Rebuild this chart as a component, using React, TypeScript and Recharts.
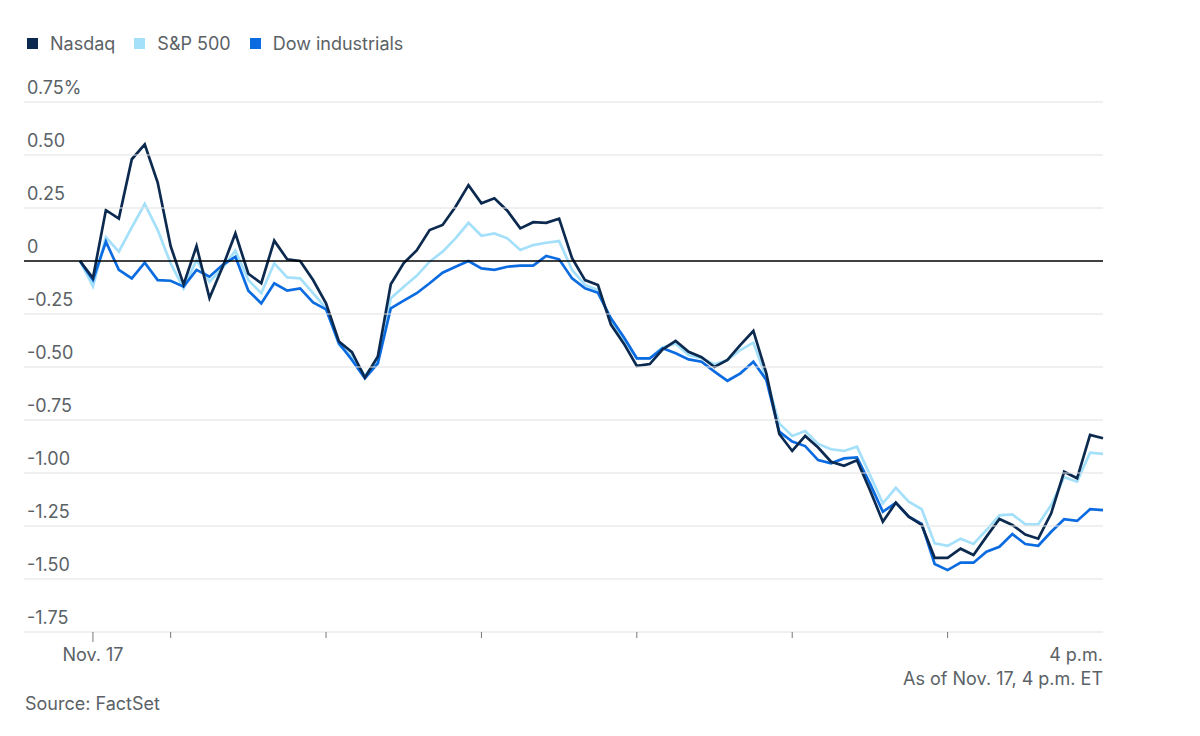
import { LineChart, Line, XAxis, YAxis } from 'recharts';

// Percent change from previous close, 5-minute marks from 9:25 to 4 p.m.
const NASDAQ = [
  0, -0.08, 0.24, 0.2, 0.48, 0.55, 0.37, 0.07, -0.11, 0.07,
  -0.175, -0.03, 0.13, -0.06, -0.105, 0.096, 0.008, 0.0, -0.09, -0.2,
  -0.38, -0.43, -0.55, -0.45, -0.11, -0.01, 0.05, 0.146, 0.17, 0.256,
  0.358, 0.272, 0.296, 0.237, 0.154, 0.183, 0.18, 0.2, 0.013, -0.09,
  -0.113, -0.3, -0.39, -0.495, -0.486, -0.417, -0.377, -0.428, -0.454, -0.5,
  -0.467, -0.396, -0.33, -0.53, -0.816, -0.896, -0.825, -0.88, -0.947, -0.966,
  -0.94, -1.08, -1.23, -1.14, -1.206, -1.245, -1.4, -1.4, -1.357, -1.387,
  -1.3, -1.217, -1.245, -1.29, -1.31, -1.19, -0.994, -1.025, -0.82, -0.836,
];
const SP500 = [
  0, -0.12, 0.112, 0.044, 0.159, 0.269, 0.146, -0.011, -0.129, 0.005,
  -0.098, -0.034, 0.049, -0.09, -0.152, -0.011, -0.077, -0.082, -0.152, -0.223,
  -0.396, -0.45, -0.54, -0.467, -0.176, -0.121, -0.07, -0.003, 0.044, 0.107,
  0.18, 0.119, 0.13, 0.107, 0.052, 0.075, 0.086, 0.094, -0.042, -0.113,
  -0.137, -0.286, -0.373, -0.459, -0.459, -0.407, -0.39, -0.443, -0.459, -0.487,
  -0.467, -0.42, -0.385, -0.553, -0.766, -0.825, -0.802, -0.863, -0.888, -0.896,
  -0.876, -1.009, -1.143, -1.07, -1.135, -1.171, -1.332, -1.344, -1.31, -1.335,
  -1.269, -1.2, -1.195, -1.242, -1.242, -1.151, -1.02, -1.041, -0.904, -0.91,
];
const DOW = [
  0, -0.09, 0.091, -0.042, -0.082, -0.008, -0.09, -0.093, -0.121, -0.042,
  -0.074, -0.019, 0.02, -0.14, -0.2, -0.105, -0.14, -0.129, -0.195, -0.228,
  -0.388, -0.467, -0.553, -0.483, -0.223, -0.187, -0.152, -0.105, -0.055, -0.027,
  0.0, -0.035, -0.042, -0.027, -0.022, -0.022, 0.024, 0.008, -0.082, -0.129,
  -0.15, -0.27, -0.36, -0.459, -0.459, -0.412, -0.435, -0.464, -0.475, -0.522,
  -0.565, -0.53, -0.475, -0.561, -0.805, -0.852, -0.873, -0.939, -0.954, -0.931,
  -0.926, -1.049, -1.183, -1.14, -1.206, -1.24, -1.429, -1.458, -1.423, -1.423,
  -1.371, -1.348, -1.288, -1.335, -1.343, -1.277, -1.218, -1.226, -1.171, -1.175,
];

const START_MIN = 9 * 60 + 25;
const STEP_MIN = 5;
const X_TICKS = [570, 600, 660, 720, 780, 840, 900, 960];
const X_LABELS: Record<number, string> = { 570: 'Nov. 17', 960: '4 p.m.' };
const Y_TICKS = [-1.75, -1.5, -1.25, -1, -0.75, -0.5, -0.25, 0, 0.25, 0.5, 0.75];

const SERIES = [
  { key: 'nasdaq', name: 'Nasdaq', color: '#0c2a4f' },
  { key: 'sp', name: 'S&P 500', color: '#a5e0fa' },
  { key: 'dow', name: 'Dow industrials', color: '#0b6be0' },
];

const data = NASDAQ.map((v, i) => ({
  t: START_MIN + i * STEP_MIN,
  nasdaq: v,
  sp: SP500[i],
  dow: DOW[i],
}));

const FONT = 'Inter, "Noto Sans", sans-serif';
const GRAY = '#5b6266';
const FS = 18;
const W = 1200;
const H = 736;
const MARGIN = { top: 102, right: 97, bottom: 64, left: 20 };
const GRID_X0 = 24;

function fmtY(v: number) {
  if (v === 0) return '0';
  const s = v.toFixed(2);
  return v === 0.75 ? s + '%' : s;
}

function YTick(props: any) {
  const { y, payload } = props;
  const v = payload.value as number;
  return (
    <g>
      <line
        x1={GRID_X0}
        x2={W - MARGIN.right}
        y1={y}
        y2={y}
        stroke={v === 0 ? '#000' : '#e2e2e2'}
        strokeWidth={v === 0 ? 1.3 : 1.2}
      />
      <text x={GRID_X0 + 3} y={y - 8} fill={GRAY} fontSize={FS} fontFamily={FONT}>
        {fmtY(v)}
      </text>
    </g>
  );
}

function XTick(props: any) {
  const { x, y, payload } = props;
  const v = payload.value as number;
  const label = X_LABELS[v];
  const last = v === X_TICKS[X_TICKS.length - 1];
  return (
    <g>
      {!last && <line x1={x} x2={x} y1={y} y2={y + (v === X_TICKS[0] ? 10 : 6)} stroke="#777" strokeWidth={1} />}
      {label && (
        <text
          x={x}
          y={y + 29}
          textAnchor={last ? 'end' : 'middle'}
          fill={GRAY}
          fontSize={FS}
          fontFamily={FONT}
        >
          {label}
        </text>
      )}
    </g>
  );
}

export default function App() {
  return (
    <div style={{ position: 'absolute', left: 0, top: 0, width: W, height: H, background: '#fff', fontFamily: FONT }}>
      <div style={{ position: 'absolute', left: 27, top: 33, display: 'flex', alignItems: 'center', fontSize: FS, color: GRAY }}>
        {SERIES.map((s) => (
          <span key={s.key} style={{ display: 'flex', alignItems: 'center', marginRight: 19 }}>
            <span style={{ width: 11, height: 11, background: s.color, marginRight: 12, display: 'inline-block' }} />
            {s.name}
          </span>
        ))}
      </div>
      <LineChart width={W} height={H} data={data} margin={MARGIN}>
        <YAxis
          type="number"
          domain={[-1.75, 0.75]}
          ticks={Y_TICKS}
          width={60}
          axisLine={false}
          tickLine={false}
          tick={<YTick />}
          interval={0}
        />
        <XAxis
          dataKey="t"
          type="number"
          domain={[START_MIN, 960]}
          ticks={X_TICKS}
          height={40}
          axisLine={false}
          tickLine={false}
          tickSize={0}
          tickMargin={0}
          tick={<XTick />}
          interval={0}
        />
        <Line dataKey="sp" stroke="#a5e0fa" strokeWidth={2.7} dot={false} isAnimationActive={false} />
        <Line dataKey="dow" stroke="#0b6be0" strokeWidth={2.7} dot={false} isAnimationActive={false} />
        <Line dataKey="nasdaq" stroke="#0c2a4f" strokeWidth={2.7} dot={false} isAnimationActive={false} />
      </LineChart>
      <div style={{ position: 'absolute', right: W - 1103, top: 668, fontSize: FS, color: GRAY }}>
        As of Nov. 17, 4 p.m. ET
      </div>
      <div style={{ position: 'absolute', left: 25, top: 693, fontSize: FS, color: GRAY }}>Source: FactSet</div>
    </div>
  );
}
